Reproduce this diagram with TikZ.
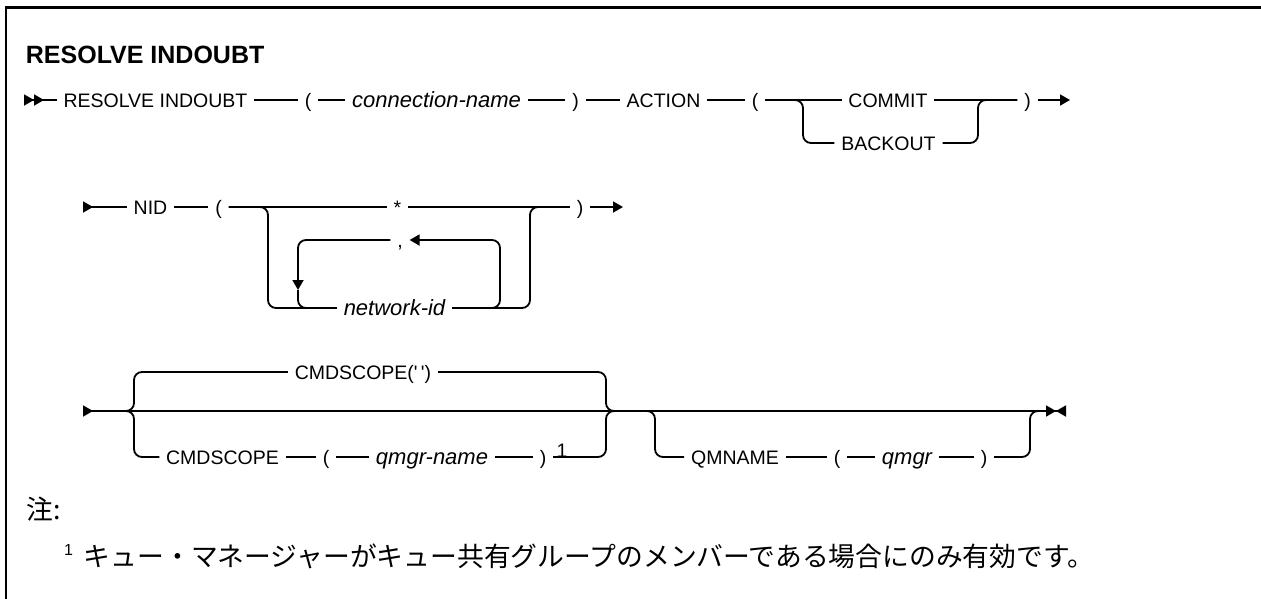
\documentclass[tikz,border=0pt]{standalone}
\usepackage{fontspec}
\setmainfont{Liberation Sans}
\newfontfamily\jafont{Noto Sans CJK JP}
\usepackage{tikz}
\usetikzlibrary{arrows.meta,positioning}

\begin{document}
\begin{tikzpicture}[x=1pt, y=-1pt, line width=1.8pt, tri/.tip={Triangle[length=10pt,width=11pt]}, every node/.style={font=\fontsize{19.5}{23}\selectfont}]
\tikzstyle{kw}=[inner xsep=6pt, inner ysep=2pt, text height=14pt, text depth=0pt]
\tikzstyle{var}=[kw, font=\fontsize{22}{26}\selectfont\itshape]
\tikzstyle{branch}=[rounded corners=8pt]
\useasboundingbox (0,0) rectangle (1261,598);
\draw[line width=2.5pt] (1262,7.5) -- (6,7.5) -- (6,599);
\node[anchor=west, inner sep=0pt, font=\bfseries\fontsize{25}{30}\selectfont] (title) at (25,55) {RESOLVE INDOUBT};
\coordinate (s1) at (24,100);
\node[kw] (resolve) at (155.5,100) {RESOLVE INDOUBT};
\node[kw] (lp1) at (308,100) {(};
\node[var] (conn) at (436.5,100) {connection-name};
\node[kw] (rp1) at (575.5,100) {)};
\node[kw] (action) at (663.5,100) {ACTION};
\node[kw] (lp2) at (755,100) {(};
\node[kw] (commit) at (888,100) {COMMIT};
\node[kw] (backout) at (888.5,143) {BACKOUT};
\node[kw] (rp2) at (1027.5,100) {)};
\coordinate (c1) at (803,100);
\coordinate (c2) at (978,100);
\coordinate (e1) at (1070,100);
\draw[{tri[reversed]tri[reversed]}-] (s1) -- (resolve);
\draw (resolve) -- (lp1) -- (conn) -- (rp1) -- (action) -- (lp2) -- (commit) -- (rp2);
\draw[branch] (lp2) -- (c1) |- (backout);
\draw[branch] (backout) -| (c2) -- (rp2);
\draw[-{tri}] (rp2) -- (e1);
\coordinate (s2) at (83,207);
\node[kw] (nid) at (150.5,207) {NID};
\node[kw] (lp3) at (218.5,207) {(};
\node[kw] (star) at (397.5,207) {*};
\node[kw] (comma) at (400,240) {,};
\node[var] (netid) at (394.5,308) {network-id};
\node[kw] (rp3) at (580,207) {)};
\coordinate (o1) at (268,207);
\coordinate (o2) at (530,207);
\coordinate (lr) at (500,240);
\coordinate (ll) at (298,290);
\coordinate (e2) at (623,207);
\draw[{tri[reversed]}-] (s2) -- (nid);
\draw (nid) -- (lp3) -- (star) -- (rp3);
\draw[branch] (lp3) -- (o1) |- (netid);
\draw[branch] (netid) -| (o2) -- (rp3);
\draw[branch, -{tri}] (netid) -| (lr) -- (comma);
\draw[branch, -{tri}] (comma) -| (ll);
\draw[branch] (ll) |- (netid);
\draw[-{tri}] (rp3) -- (e2);
\coordinate (s3) at (83,411);
\coordinate (a1) at (118,411);
\coordinate (b1) at (134,411);
\coordinate (b2) at (606,411);
\coordinate (a2) at (620,411);
\coordinate (b3) at (655,411);
\coordinate (b4) at (1030,411);
\coordinate (a3) at (1040,411);
\coordinate (e3) at (1066,411);
\node[kw] (dflt) at (363,372) {CMDSCOPE(\textquotesingle\,\textquotesingle)};
\node[kw] (cmds) at (222.5,457) {CMDSCOPE};
\node[kw] (lp4) at (326,457) {(};
\node[var] (qname) at (432,457) {qmgr-name};
\node[kw] (rp4) at (543,457) {)};
\node[kw, inner xsep=0pt] (fn) at (562,450) {1};
\node[kw] (qmn) at (735,457) {QMNAME};
\node[kw] (lp5) at (837,457) {(};
\node[var] (qmgr) at (907,457) {qmgr};
\node[kw] (rp5) at (984,457) {)};
\draw[{tri[reversed]}-{tri[]tri[reversed]}] (s3) -- (e3);
\draw[branch] (a1) -- (b1) |- (dflt);
\draw[branch] (a1) -- (b1) |- (cmds);
\draw[branch] (dflt) -| (b2) -- (a2);
\draw[branch] (rp4) -| (b2) -- (a2);
\draw (cmds) -- (lp4) -- (qname) -- (rp4);
\draw[branch] (a2) -- (b3) |- (qmn);
\draw (qmn) -- (lp5) -- (qmgr) -- (rp5);
\draw[branch] (rp5) -| (b4) -- (a3);
\node[anchor=west, inner sep=0pt, font=\jafont\fontsize{26.8}{32}\selectfont] (notes) at (26,509) {注:};
\node[inner sep=0pt, font=\fontsize{16}{18}\selectfont] (mark) at (68.5,550) {1};
\node[anchor=west, inner sep=0pt, font=\jafont\fontsize{26.8}{32}\selectfont] (note1) at (83,556) {キュー・マネージャーがキュー共有グループのメンバーである場合にのみ有効です。};
\end{tikzpicture}
\end{document}
